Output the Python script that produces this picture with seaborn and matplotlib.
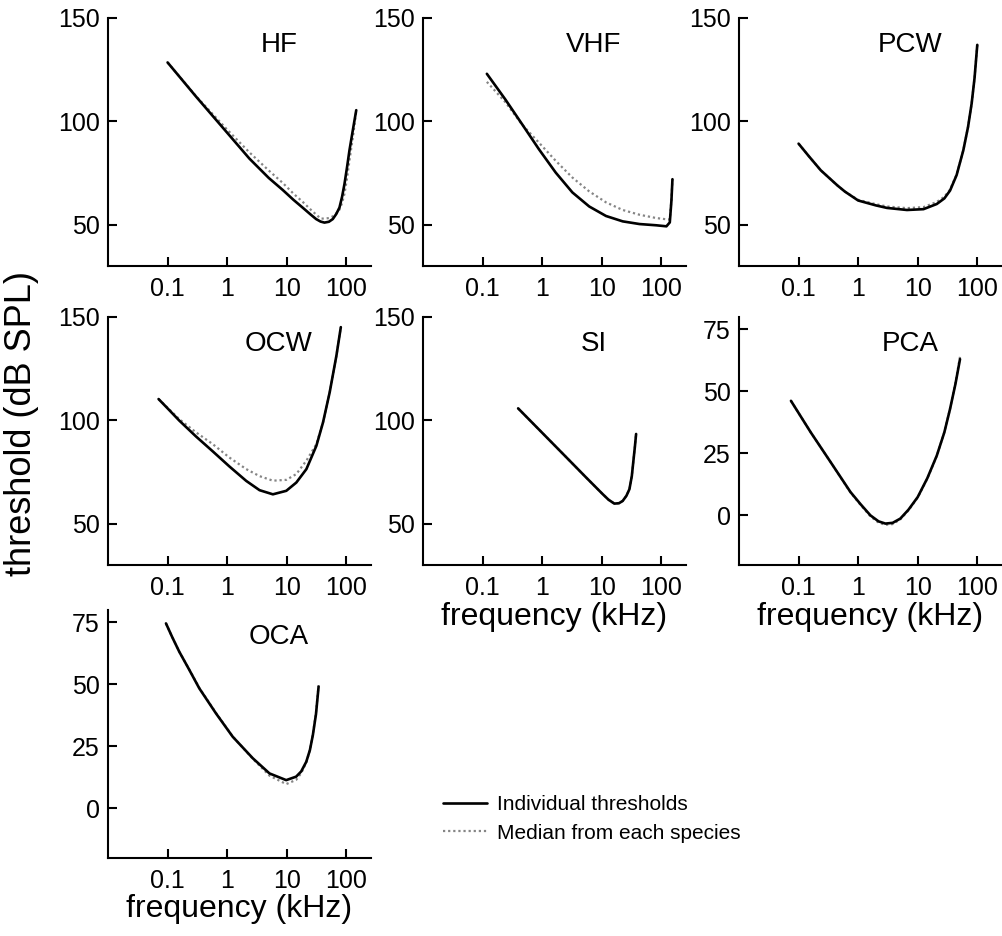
import numpy as np
import pandas as pd
import matplotlib
matplotlib.use("Agg")
import matplotlib.pyplot as plt
from matplotlib.lines import Line2D
from matplotlib.ticker import NullLocator
import seaborn as sns

sns.set_style("ticks")
plt.rcParams["font.family"] = ["Liberation Sans", "DejaVu Sans"]
plt.rcParams["text.color"] = "black"
plt.rcParams["axes.labelcolor"] = "black"

# frequency (kHz) and threshold (dB SPL)
hf_freq = [0.1, 0.3, 1, 2.36, 5, 8.57, 13, 18.6, 25, 31.2, 37, 43, 51, 59.3, 68, 76.9, 85, 93.3, 103, 113, 130, 147]
hf_ind = [128.5, 112, 94.5, 82, 72.6, 66.8, 62, 58.2, 55, 52.7, 51.5, 51, 51.4, 52.7, 55.2, 58.3, 63.5, 69.7, 77.8, 85.9, 96.4, 105.4]
hf_med = [128.5, 112.2, 96, 85, 76.2, 70.2, 65, 61, 57.4, 54.9, 53, 52.9, 53.2, 54, 55.5, 57.3, 60.5, 65, 72.5, 81, 93, 105]

vhf_freq = [0.118, 0.241, 0.461, 0.883, 1.69, 3.22, 6.17, 11.8, 22.5, 43.1, 82.4, 122, 139, 148, 154]
vhf_ind = [123, 110.6, 98.6, 86.5, 75.2, 65.6, 58.8, 54.2, 51.6, 50.3, 49.7, 49.2, 51.1, 61.6, 72]
vhf_med = [119.1, 109.3, 98.4, 89.7, 80.9, 72.8, 66.1, 60.8, 57.1, 54.8, 53.2, 52.6, 52.5, 62, 72]

pcw_freq = [0.1, 0.15, 0.236, 0.448, 0.6, 1, 2, 3.05, 6.6, 12.5, 20.9, 28, 34.9, 45, 58.3, 70, 80.5, 90, 100]
pcw_ind = [89.2, 83, 76.3, 69, 66, 61.7, 59.3, 58.1, 57.1, 57.5, 60, 62.7, 66.5, 74, 86, 97.3, 108.7, 121, 137]
pcw_med = [89.2, 83, 76.3, 69, 66, 62, 59.9, 58.8, 58, 58.5, 61, 63.5, 67, 74.3, 86, 97.3, 108.7, 121, 137]

ocw_freq = [0.0706, 0.1, 0.157, 0.30, 0.573, 1.09, 2.09, 3.5, 5.86, 9.84, 14.5, 21.4, 31.5, 40.7, 52.7, 68.4, 81]
ocw_ind = [110.3, 105.8, 99.9, 92.2, 85, 77.7, 70.7, 66.2, 64.2, 65.9, 69.9, 76.4, 87.7, 99, 113.6, 131.4, 145.1]
ocw_med = [110.3, 106.1, 100.6, 94.2, 88.5, 82, 76.4, 73, 70.8, 71.2, 74, 80.5, 88.5, 99, 113.6, 131.4, 145.1]

si_freq = [0.395, 1, 2.49, 5.41, 10.3, 13, 16.3, 19.5, 22.5, 26, 29.2, 32, 34.5, 36, 37.8]
si_ind = [105.8, 94, 82.4, 72.5, 64.4, 61.6, 59.7, 59.9, 61, 63.5, 66.7, 73, 82, 87, 93.4]
si_med = [105.8, 94, 82.4, 72.5, 64.4, 61.6, 59.7, 59.9, 61, 63.5, 66.7, 73, 82, 87, 93.4]

pca_freq = [0.0745, 0.16, 0.347, 0.745, 1.1, 1.61, 2.2, 2.87, 3.8, 5.1, 7, 10, 14.5, 20.9, 28, 34.9, 43, 51.3]
pca_ind = [46.2, 33.5, 21.4, 9.4, 4.5, 0, -2.4, -3.3, -3.0, -1.3, 2.3, 7.4, 15, 24.1, 33.5, 42.9, 53, 63]
pca_med = [46.2, 33.5, 21.4, 9.2, 4.2, -0.4, -2.9, -3.8, -3.5, -1.6, 2.0, 7.2, 14.8, 24, 33.6, 43, 53.5, 64]

oca_freq = [0.094, 0.12, 0.157, 0.23, 0.341, 0.65, 1.24, 2.7, 5.14, 9.8, 14.4, 17.5, 21.3, 24.5, 27.5, 31, 34.3]
oca_ind = [74.6, 69, 63.2, 56, 48.4, 38.3, 28.9, 20.2, 14.1, 11.4, 12.8, 14.9, 18.8, 23.5, 29.6, 38, 49.1]
oca_med = [74.6, 69, 63.2, 56.1, 48.6, 38.5, 29, 20, 13.2, 9.8, 11.5, 14.2, 18.5, 23.5, 30, 38.5, 49.7]

groups = ["HF", "VHF", "PCW", "OCW", "SI", "PCA", "OCA"]
freqs = [hf_freq, vhf_freq, pcw_freq, ocw_freq, si_freq, pca_freq, oca_freq]
inds = [hf_ind, vhf_ind, pcw_ind, ocw_ind, si_ind, pca_ind, oca_ind]
meds = [hf_med, vhf_med, pcw_med, ocw_med, si_med, pca_med, oca_med]

rows = []
for g, fr, ind, med in zip(groups, freqs, inds, meds):
    for f, v in zip(fr, ind):
        rows.append((g, "Individual thresholds", f, v))
    for f, v in zip(fr, med):
        rows.append((g, "Median from each species", f, v))
df = pd.DataFrame(rows, columns=["group", "kind", "freq", "threshold"])

fig = plt.figure(figsize=(10.03, 9.36), dpi=100)

W, H = 263 / 1003, 248 / 936
lefts = [108 / 1003, 423 / 1003, 739 / 1003]
bottoms = [1 - 266 / 936, 1 - 565 / 936, 1 - 858 / 936]
slots = {"HF": (0, 0), "VHF": (0, 1), "PCW": (0, 2),
         "OCW": (1, 0), "SI": (1, 1), "PCA": (1, 2), "OCA": (2, 0)}
dot_style = (0, (1, 1.3))

for g in groups:
    r, c = slots[g]
    ax = fig.add_axes([lefts[c], bottoms[r], W, H])
    sub = df[df["group"] == g]
    sns.lineplot(data=sub[sub["kind"] == "Median from each species"], x="freq", y="threshold",
                 ax=ax, color="#858585", lw=1.6, linestyle=dot_style, estimator=None, legend=False)
    sns.lineplot(data=sub[sub["kind"] == "Individual thresholds"], x="freq", y="threshold",
                 ax=ax, color="black", lw=1.9, estimator=None, legend=False)
    ax.set_xscale("log")
    ax.set_xlim(0.01, 260)
    ax.set_xticks([0.1, 1, 10, 100])
    ax.set_xticklabels(["0.1", "1", "10", "100"])
    ax.xaxis.set_minor_locator(NullLocator())
    if g in ("PCA", "OCA"):
        ax.set_ylim(-20, 80)
        ax.set_yticks([0, 25, 50, 75])
    else:
        ax.set_ylim(30, 150)
        ax.set_yticks([50, 100, 150])
    sns.despine(ax=ax)
    for s in ("left", "bottom"):
        ax.spines[s].set_linewidth(1.5)
        ax.spines[s].set_color("black")
    ax.tick_params(direction="in", length=6.5, width=1.5, labelsize=18, colors="black")
    ax.tick_params(axis="x", pad=8)
    ax.tick_params(axis="y", pad=6)
    ax.text(0.65, 0.89, g, transform=ax.transAxes, ha="center", va="center", fontsize=20)
    ax.set_ylabel("")
    if g in ("SI", "PCA", "OCA"):
        ax.set_xlabel("frequency (kHz)", fontsize=23, labelpad=1)
    else:
        ax.set_xlabel("")

fig.text(22 / 1003, 1 - 424 / 936, "threshold (dB SPL)", rotation=90,
         ha="center", va="center", fontsize=26)

handles = [Line2D([], [], color="black", lw=1.9),
           Line2D([], [], color="#858585", lw=1.6, linestyle=dot_style)]
fig.legend(handles, ["Individual thresholds", "Median from each species"],
           loc="center left", bbox_to_anchor=(443 / 1003, 1 - 819 / 936),
           frameon=False, fontsize=15, handlelength=2.1, handletextpad=0.5,
           borderpad=0, borderaxespad=0, labelspacing=0.45)

fig.savefig("out.png", dpi=100)
